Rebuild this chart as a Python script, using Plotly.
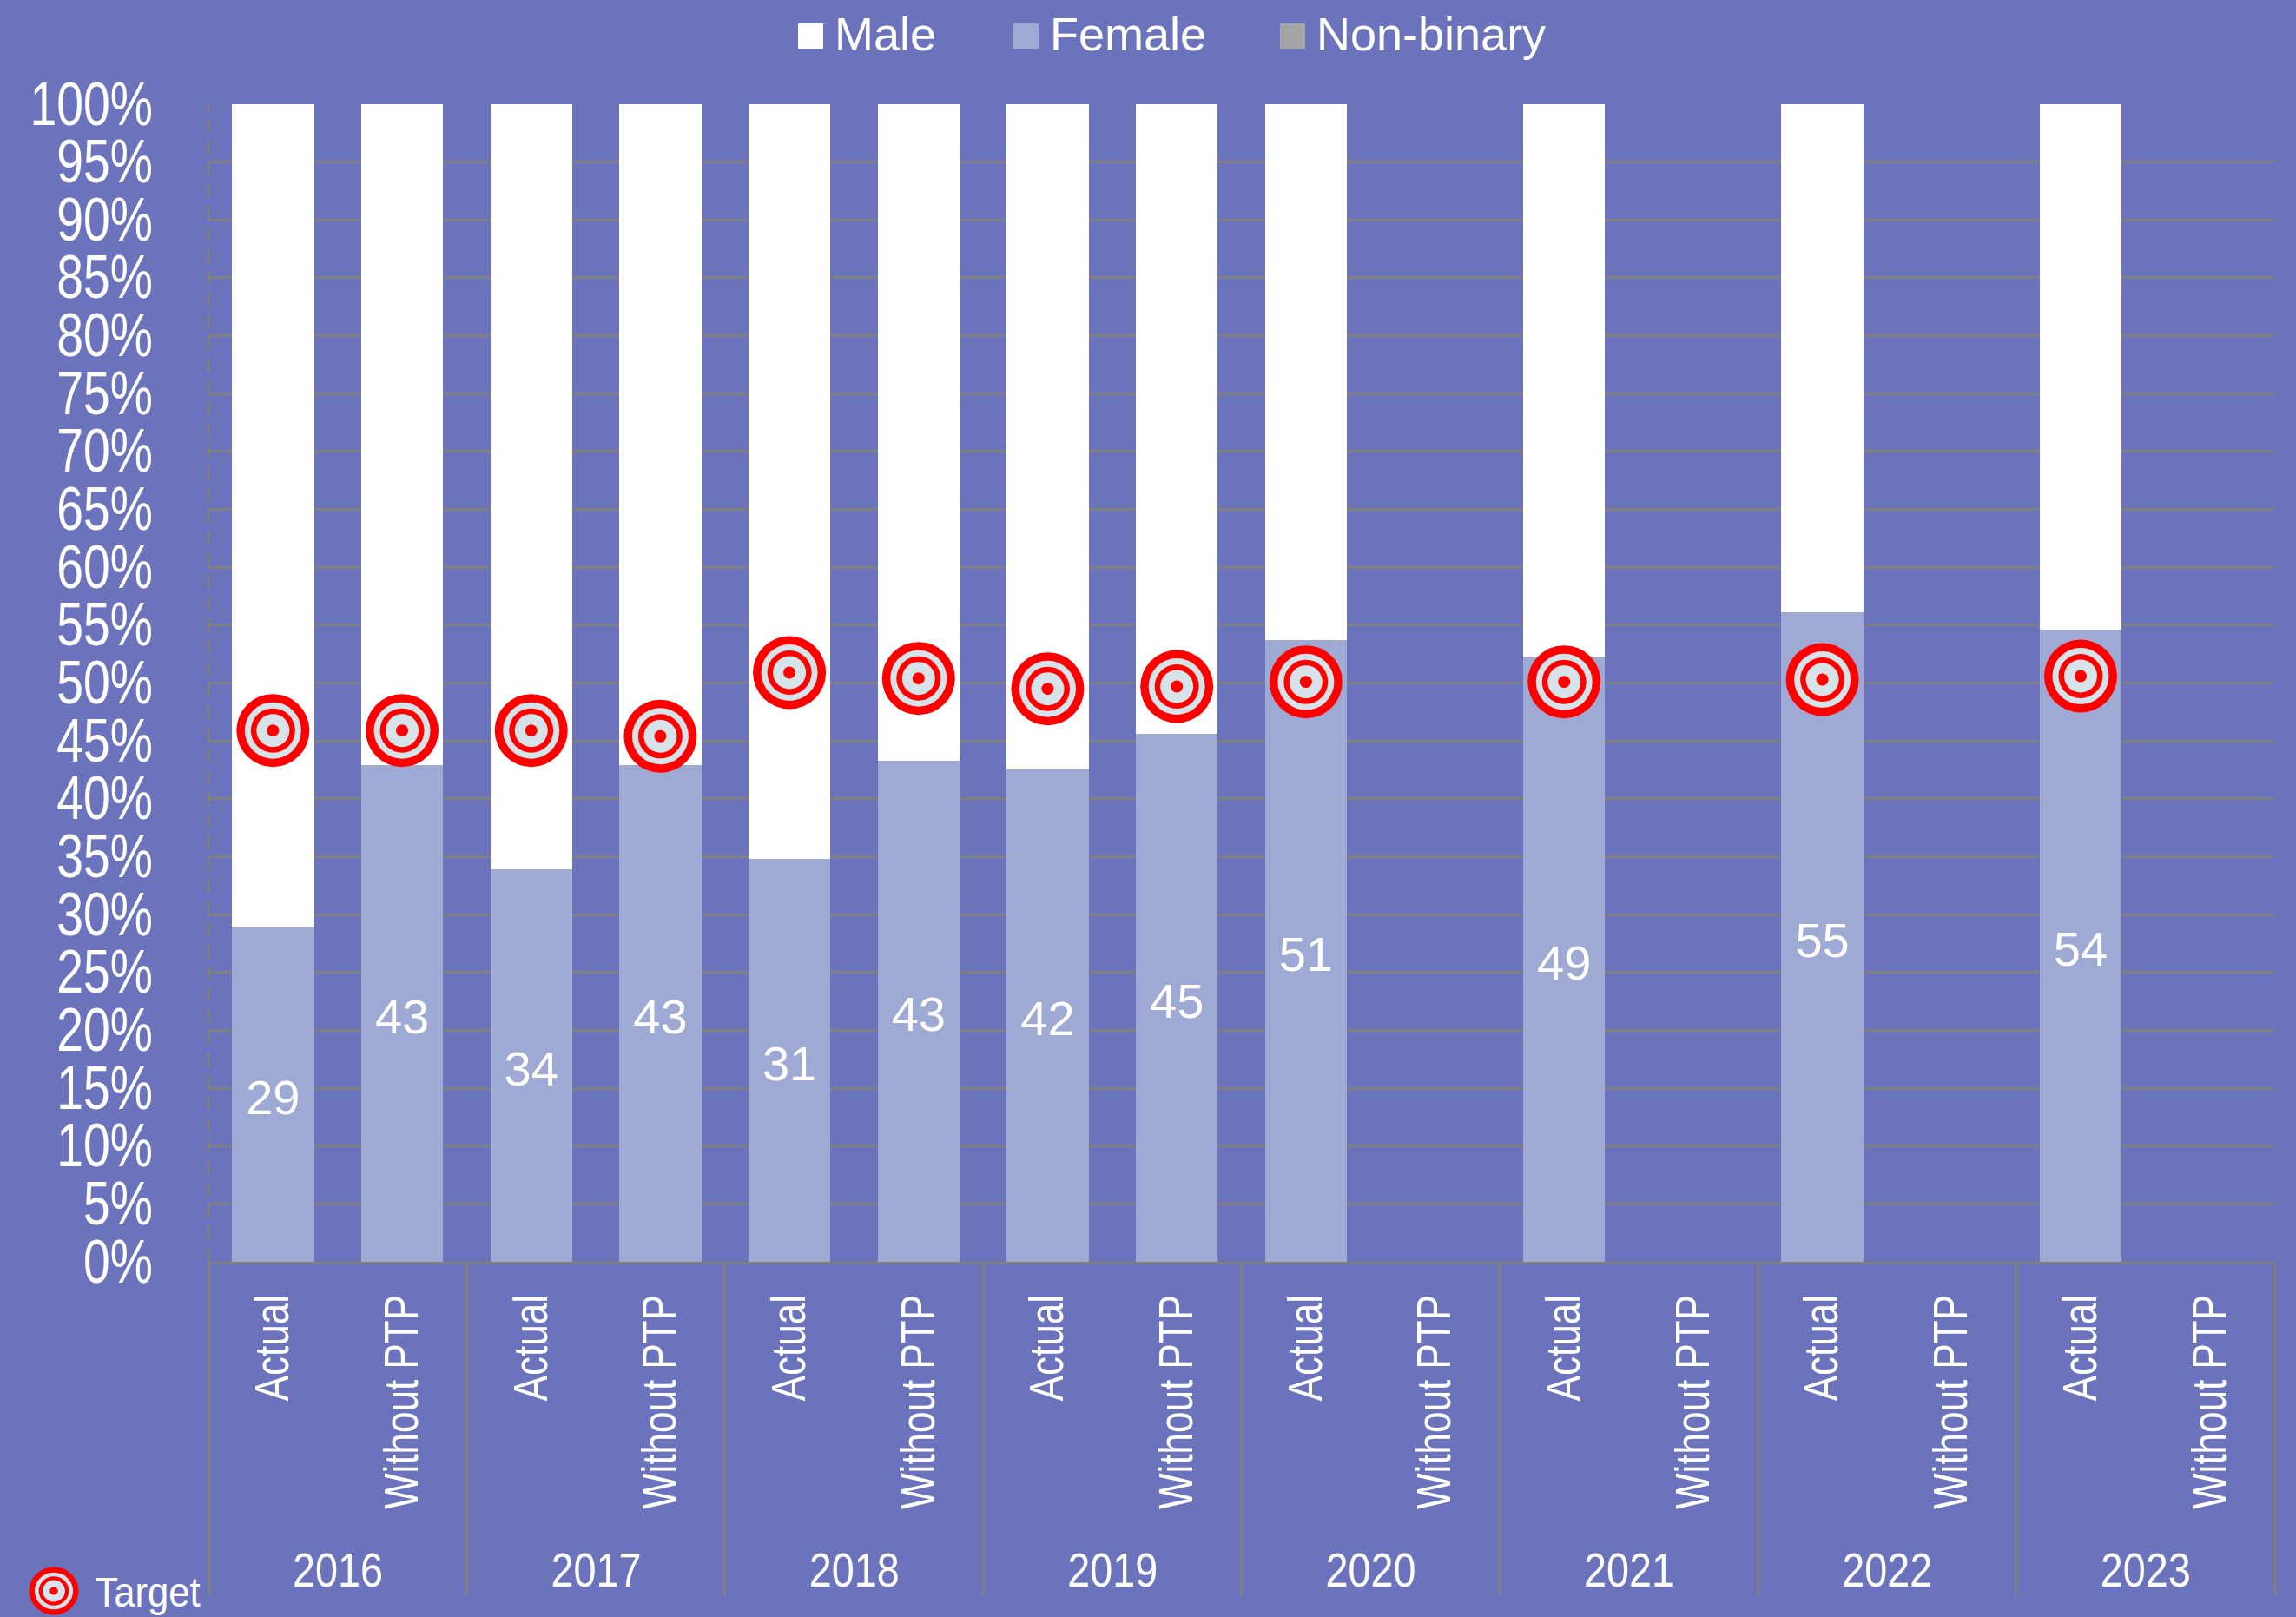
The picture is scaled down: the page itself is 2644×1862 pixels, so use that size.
import plotly.graph_objects as go

years = ["2016","2016","2017","2017","2018","2018","2019","2019","2020","2020","2021","2021","2022","2022","2023","2023"]
kinds = ["Actual","Without PTP"]*8
female = [28.9,42.9,33.9,42.9,34.8,43.3,42.5,45.6,53.7,None,52.2,None,56.1,None,54.6,None]
male = [71.1,57.1,66.1,57.1,65.2,56.7,57.5,54.4,46.3,None,47.8,None,43.9,None,45.4,None]
nonbinary = [0,0,0,0,0,0,0,0,0,None,0,None,0,None,0,None]
female_labels = ["29","43","34","43","31","43","42","45","51","","49","","55","","54",""]
target = [45.9,45.9,45.9,45.4,50.9,50.4,49.5,49.7,50.1,None,50.1,None,50.3,None,50.6,None]
y_ticks = list(range(0,101,5))
y_tick_labels = [f"{v}%" for v in y_ticks]
ring_sizes = [84,65,51,38,14]
ring_colors = ["#FF0000","#D6E3E8","#FF0000","#D6E3E8","#FF0000"]
legend_names = ["Male","Female","Non-binary"]
legend_colors = ["#FFFFFF","#9EA9D4","#A5A5A5"]
legend_box_x = [919,1167,1474]
legend_text_x = [959,1207,1514]

W,H = 2644,1862
L,R,T,B = 240,25,120,409
BG = "#6B73BD"
GRID = "#808080"
SANS = "Liberation Sans"
px = lambda v:(v-L)/(W-L-R)
py = lambda v:1-(v-T)/(H-T-B)

x = [years,kinds]
fig = go.Figure()
fig.add_bar(x=x,y=female,name="Female",marker=dict(color="#9EA9D4",line_width=0),text=female_labels,texttemplate="%{text}",
            textposition="inside",insidetextanchor="middle",textangle=0,constraintext="none",
            textfont=dict(family=SANS,size=56,color="white"))
fig.add_bar(x=x,y=nonbinary,name="Non-binary",marker=dict(color="#A5A5A5",line_width=0))
fig.add_bar(x=x,y=male,name="Male",marker=dict(color="#FFFFFF",line_width=0))
for s,c in zip(ring_sizes,ring_colors):
    fig.add_scatter(x=x,y=target,mode="markers",name="Target",showlegend=False,
                    marker=dict(size=s,color=c,line_width=0))

shapes=[dict(type="line",xref="paper",yref="paper",x0=0,x1=0,y0=0,y1=1,
             line=dict(color=GRID,width=3,dash="16px,9px"))]
annotations=[]
for n,c,bx,tx in zip(legend_names,legend_colors,legend_box_x,legend_text_x):
    shapes.append(dict(type="rect",xref="paper",yref="paper",x0=px(bx),x1=px(bx+29),y0=py(56),y1=py(27),
                       fillcolor=c,line_width=0))
    annotations.append(dict(xref="paper",yref="paper",x=px(tx),y=py(39),text=n,showarrow=False,
                            xanchor="left",yanchor="middle",font=dict(family=SANS,size=54,color="white")))
# target key, bottom left
for s,c in zip(ring_sizes,ring_colors):
    rx,ry = s/84*28.5, s/84*27.5
    shapes.append(dict(type="circle",xref="paper",yref="paper",x0=px(62-rx),x1=px(62+rx),
                       y0=py(1832+ry),y1=py(1832-ry),fillcolor=c,line_width=0))
annotations.append(dict(xref="paper",yref="paper",x=px(100),y=py(1833),text="Target",showarrow=False,
                        xanchor="left",yanchor="middle",font=dict(family=SANS,size=49,color="white")))

fig.update_layout(template="none",width=W,height=H,margin=dict(l=L,r=R,t=T,b=B,pad=0),autosize=False,
    paper_bgcolor=BG,plot_bgcolor=BG,barmode="stack",bargap=0.365,showlegend=False,
    font=dict(family=SANS,color="white"),shapes=shapes,annotations=annotations)
fig.update_yaxes(range=[0,100],tickvals=y_ticks,ticktext=y_tick_labels,showgrid=True,gridcolor=GRID,gridwidth=3,
    zeroline=False,showline=False,ticks="outside",ticklen=49,tickcolor="rgba(0,0,0,0)",
    tickfont=dict(family=SANS,size=70,color="white"))
fig.update_xaxes(type="multicategory",range=[-0.5,15.5],tickangle=-90,showline=True,linecolor=GRID,linewidth=3,
    showdividers=True,dividercolor=GRID,dividerwidth=3,ticks="outside",ticklen=63,tickcolor="rgba(0,0,0,0)",
    tickfont=dict(family=SANS,size=55,color="white"),showgrid=False,zeroline=False)

# The reference's axis type is horizontally condensed: narrow each label about its own anchor.
post = """
document.body.style.margin='0';
function narrow(sel,k,dx,dy,match){document.querySelectorAll(sel).forEach(function(t){
  if(match&&t.textContent!==match)return;
  var x=t.getAttribute('x')||0,y=t.getAttribute('y')||0,old=t.getAttribute('transform')||'';
  t.setAttribute('transform','translate('+dx+','+dy+') '+old+' translate('+x+','+y+') scale('+k+',1) translate('+(-x)+','+(-y)+')');
});}
narrow('.ytick text',0.79,0,-1);
narrow('.xtick text',0.80,0,13);
narrow('.xtick2 text',0.85,10,-61);
narrow('.annotation text',0.89,0,0,'Target');
document.querySelectorAll('text.bartext').forEach(function(t){
  t.setAttribute('transform','translate(0,3) '+(t.getAttribute('transform')||''));
});
document.querySelectorAll('path.xdivider').forEach(function(p){
  p.setAttribute('d',p.getAttribute('d').replace(/v-?[\\d.]+/,'v381'));
});
"""
fig.write_html("out.html",post_script=post,config=dict(displayModeBar=False))
